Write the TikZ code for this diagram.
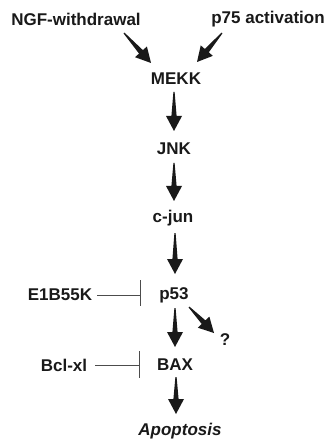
\documentclass[tikz,border=0pt]{standalone}
\usepackage{fontspec}
\setmainfont{Liberation Sans}
\usetikzlibrary{calc}
\tikzset{
  lbl/.style={font=\fontsize{17}{19}\selectfont\bfseries, inner sep=0pt, text=black!90},
  inhib/.style={draw=black!70, line width=0.6pt},
}
\newcommand\fatarrow[2]{%
  \coordinate (fa-h) at ($(#2)!15pt!(#1)$);
  \fill[black!90] ($(#1)!0.6pt!90:(#2)$) -- ($(fa-h)!2.6pt!90:(#2)$) -- ($(fa-h)!8pt!90:(#2)$) -- (#2)
     -- ($(fa-h)!8pt!-90:(#2)$) -- ($(fa-h)!2.6pt!-90:(#2)$) -- ($(#1)!0.6pt!-90:(#2)$) -- cycle;
}
\begin{document}
\begin{tikzpicture}[x=1pt,y=-1pt]
\useasboundingbox (0,0) rectangle (331,443);
\node[lbl] (ngf) at (76,19) {NGF-withdrawal};
\node[lbl] (p75) at (268,19) {p75 activation};
\node[lbl] (mekk) at (176,79) {MEKK};
\node[lbl] (jnk) at (174,149) {JNK};
\node[lbl] (cjun) at (173,218) {c-jun};
\node[lbl] (p53) at (174,295) {p53};
\node[lbl] (e1b) at (60,295) {E1B55K};
\node[lbl] (bax) at (175,365) {BAX};
\node[lbl] (bcl) at (64,365) {Bcl-xl};
\node[lbl] (q) at (225,340) {?};
\node[lbl, font=\fontsize{17}{19}\selectfont\bfseries\itshape] (apo) at (180,431) {Apoptosis};
% arrow end points
\coordinate (a1s) at (124,33); \coordinate (a1e) at (151,63);
\coordinate (a2s) at (222,33); \coordinate (a2e) at (197,62);
\coordinate (a3s) at (174,92); \coordinate (a3e) at (174,131);
\coordinate (a4s) at (174,163); \coordinate (a4e) at (174,201);
\coordinate (a5s) at (175,233); \coordinate (a5e) at (175,274);
\coordinate (a6s) at (175,308); \coordinate (a6e) at (175,347);
\coordinate (a7s) at (189,307); \coordinate (a7e) at (214,333);
\coordinate (a8s) at (176,377); \coordinate (a8e) at (176,414);
\fatarrow{a1s}{a1e}
\fatarrow{a2s}{a2e}
\fatarrow{a3s}{a3e}
\fatarrow{a4s}{a4e}
\fatarrow{a5s}{a5e}
\fatarrow{a6s}{a6e}
\fatarrow{a7s}{a7e}
\fatarrow{a8s}{a8e}
% inhibitions
\coordinate (i1) at (140,295);
\draw[inhib] (e1b.east) ++(5,0) -- (i1);
\draw[inhib] (140,280) -- (140,306);
\coordinate (i2) at (139,365);
\draw[inhib] (bcl.east) ++(8,0) -- (i2);
\draw[inhib] (139,351) -- (139,378);
\end{tikzpicture}
\end{document}
